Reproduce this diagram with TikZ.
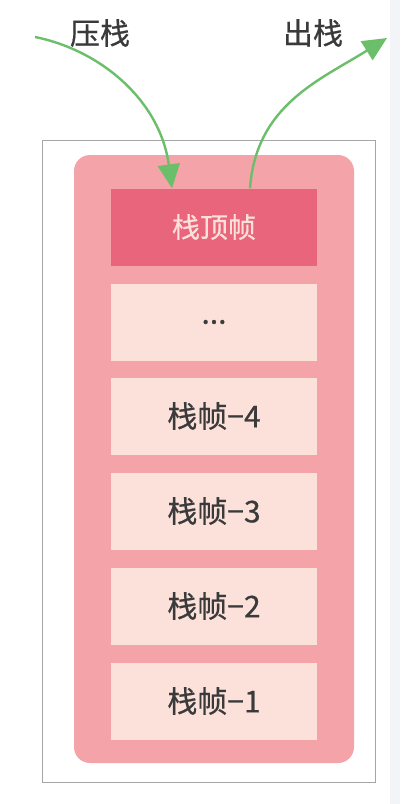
\documentclass[tikz,border=0pt]{standalone}
\usepackage{fontspec}
\setmainfont{Noto Sans CJK SC}[FakeBold=0.6]
\usetikzlibrary{arrows.meta}
\definecolor{pinkbg}{HTML}{F4A4A8}
\definecolor{framefill}{HTML}{FCE1DB}
\definecolor{topfill}{HTML}{E8657B}
\definecolor{txt}{HTML}{3A3A3A}
\definecolor{arrowgreen}{HTML}{6CBF6A}
\definecolor{strip}{HTML}{F2F4F8}
\tikzset{
  frame/.style={fill=framefill, draw=none, minimum width=206pt, minimum height=77pt, inner sep=0pt, text=txt, font=\fontsize{30}{32}\selectfont},
  topframe/.style={frame, fill=topfill, text=framefill, font=\fontsize{28}{30}\selectfont},
  lbl/.style={text=txt, font=\fontsize{30}{32}\selectfont, inner sep=0pt},
  flow/.style={arrowgreen, line width=2.4pt, -{Triangle[length=24pt,width=22pt]}},
}
\begin{document}
\begin{tikzpicture}[x=1pt,y=-1pt]
\useasboundingbox (0,0) rectangle (400,804);
\fill[white] (0,0) rectangle (400,804);
\fill[strip] (390,0) rectangle (400,804);
\node[draw=black!35, line width=0.8pt, minimum width=333pt, minimum height=642pt, inner sep=0pt] (outer) at (209,461) {};
\node[fill=pinkbg, rounded corners=16pt, minimum width=280pt, minimum height=608pt, inner sep=0pt] (stack) at (214,459) {};
\node[topframe] (top) at (214,227) {栈顶帧};
\node[frame] (dots) at (214,322) {...};
\node[frame] (f4) at (214,416) {栈帧−4};
\node[frame] (f3) at (214,511) {栈帧−3};
\node[frame] (f2) at (214,606) {栈帧−2};
\node[frame] (f1) at (214,701) {栈帧−1};
\node[lbl] (push) at (100,33) {压栈};
\node[lbl] (pop) at (313,33) {出栈};
\coordinate (pushstart) at (35,37);
\coordinate (popend) at (387,38);
\draw[flow] (pushstart) .. controls (100,50) and (160,100) .. ([xshift=-42pt]top.north);
\draw[flow] ([xshift=36pt]top.north) .. controls (256,105) and (320,80) .. (popend);
\end{tikzpicture}
\end{document}
